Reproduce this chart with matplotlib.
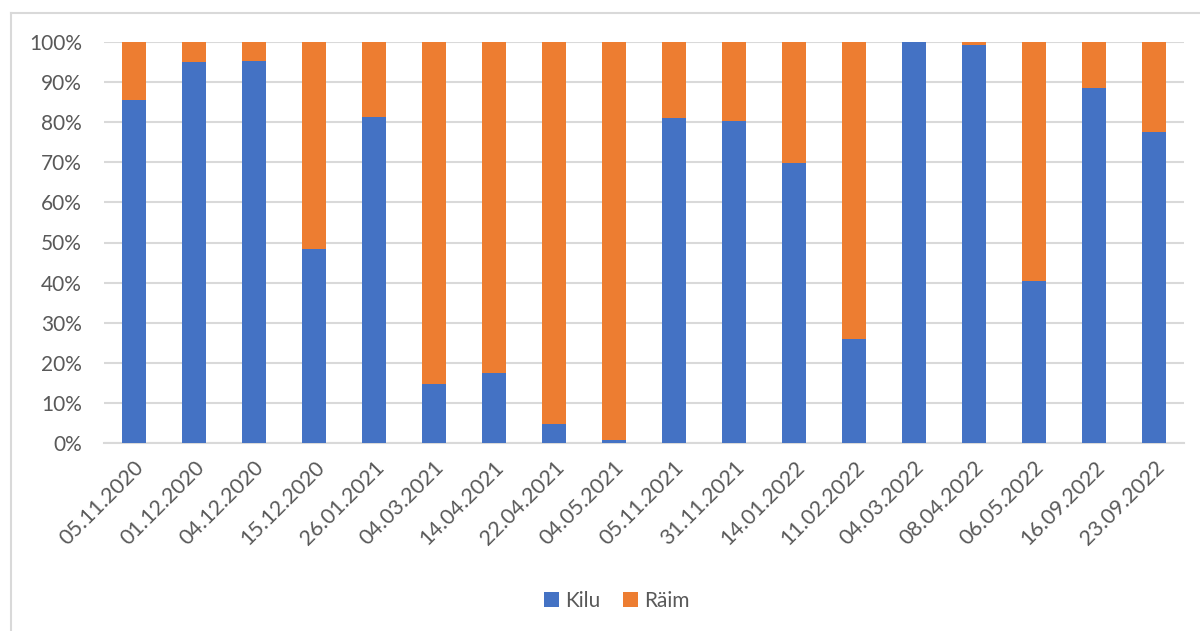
import numpy as np
import matplotlib.pyplot as plt
from matplotlib.lines import Line2D

# === Donnees ===
dates = ["05.11.2020", "01.12.2020", "04.12.2020", "15.12.2020", "26.01.2021",
         "04.03.2021", "14.04.2021", "22.04.2021", "04.05.2021", "05.11.2021",
         "31.11.2021", "14.01.2022", "11.02.2022", "04.03.2022", "08.04.2022",
         "06.05.2022", "16.09.2022", "23.09.2022"]
kilu = [85.5, 95.0, 95.3, 48.4, 81.3, 14.7, 17.5, 4.7, 0.8, 81.0,
        80.3, 69.8, 25.9, 100.0, 99.3, 40.4, 88.5, 77.6]
raim = [100 - k for k in kilu]

bleu = '#4472C4'
orange = '#ED7D31'
gris_txt = '#595959'
gris_grille = '#D9D9D9'

plt.rcParams['font.family'] = ['Lato', 'DejaVu Sans']

fig = plt.figure(figsize=(12, 6.31), dpi=100)
ax = fig.add_axes([104 / 1200, 1 - 443 / 631, 1080 / 1200, 401 / 631])

x = np.arange(len(dates))
ax.bar(x, kilu, width=0.4, color=bleu, label='Kilu', zorder=3)
ax.bar(x, raim, width=0.4, bottom=kilu, color=orange, label='Räim', zorder=3)

ax.set_xlim(-0.5, len(dates) - 0.5)
ax.set_ylim(0, 100)
ax.set_yticks(np.arange(0, 101, 10))
ax.set_yticklabels([f"{v}%" for v in range(0, 101, 10)])
ax.set_xticks(x)
ax.set_xticklabels(dates, rotation=45, ha='right', rotation_mode='anchor')

ax.grid(axis='y', color=gris_grille, linewidth=1.5, zorder=0)
for s in ['top', 'right', 'left']:
    ax.spines[s].set_visible(False)
ax.spines['bottom'].set_color(gris_grille)
ax.spines['bottom'].set_linewidth(1.5)
ax.tick_params(axis='both', length=0, colors=gris_txt, labelsize=15)
ax.tick_params(axis='y', pad=16)
ax.tick_params(axis='x', pad=10, labelsize=15.5)

fig.legend(loc='center', bbox_to_anchor=(0.514, 0.0475), ncol=2, frameon=False,
           fontsize=15, labelcolor=gris_txt, handlelength=0.7, handleheight=0.7,
           handletextpad=0.3, columnspacing=1.1)

# cadre du graphique
xl = 10.5 / 1200
yt = 1 - 13 / 631
fig.add_artist(Line2D([xl, xl], [0, yt], color=gris_grille, linewidth=1.5))
fig.add_artist(Line2D([xl, 1], [yt, yt], color=gris_grille, linewidth=1.5))

fig.savefig('out.png', dpi=100)
